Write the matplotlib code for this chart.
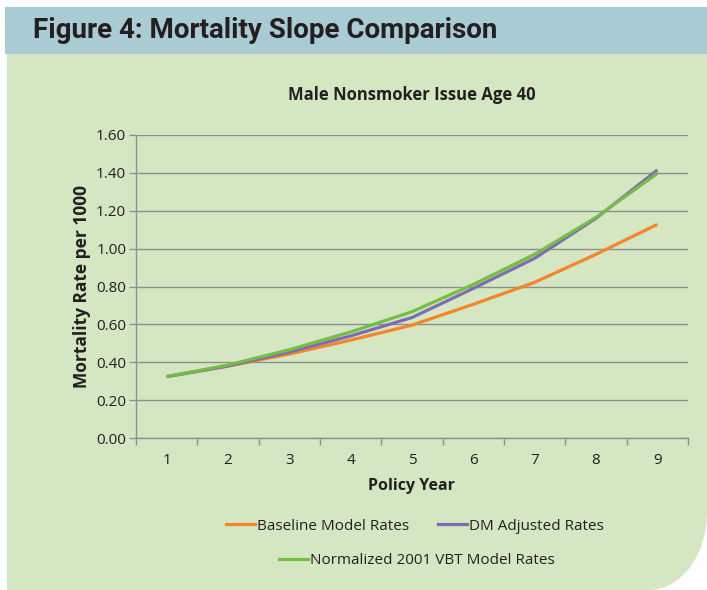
import matplotlib
matplotlib.use("Agg")
import matplotlib.pyplot as plt
from matplotlib.patches import Rectangle, PathPatch
from matplotlib.path import Path
from matplotlib.lines import Line2D
import numpy as np

plt.rcParams['font.family'] = ['Open Sans', 'DejaVu Sans']

years = [1, 2, 3, 4, 5, 6, 7, 8, 9]
baseline = [0.324, 0.380, 0.443, 0.517, 0.596, 0.706, 0.822, 0.970, 1.128]
dm_adjusted = [0.324, 0.380, 0.454, 0.539, 0.636, 0.790, 0.949, 1.160, 1.415]
vbt_normalized = [0.324, 0.385, 0.466, 0.560, 0.667, 0.811, 0.970, 1.165, 1.397]
yticks = [0.0, 0.2, 0.4, 0.6, 0.8, 1.0, 1.2, 1.4, 1.6]

C_ORANGE = '#F5842A'
C_PURPLE = '#7E6BB5'
C_GREEN = '#72BF44'
C_BG = '#D4E7C2'
C_HEAD = '#A8CBD4'
C_GRID = '#8E8E8E'
C_TEXT = '#231F20'

W, H = 707, 590
fig = plt.figure(figsize=(W / 100, H / 100), dpi=100)
fig.patch.set_facecolor('white')

# header band
fig.patches.append(Rectangle((5 / W, 1 - 54 / H), 1 - 5 / W, 47 / H,
                             transform=fig.transFigure, facecolor=C_HEAD,
                             edgecolor='none', zorder=-10))
# green panel with rounded bottom-right corner
x0, x1 = 7 / W, 1.0
y0, y1 = 0.0, 1 - 54 / H
rx, ry = 58 / W, 78 / H
t = np.linspace(0, np.pi / 2, 40)
arc_x = (x1 - rx) + rx * np.sin(t)
arc_y = (y0 + ry) - ry * np.cos(t)
verts = [(x0, y1), (x0, y0)] + list(zip(arc_x, arc_y)) + [(x1, y1), (x0, y1)]
codes = [Path.MOVETO] + [Path.LINETO] * (len(verts) - 2) + [Path.CLOSEPOLY]
fig.patches.append(PathPatch(Path(verts, codes), transform=fig.transFigure,
                             facecolor=C_BG, edgecolor='none', zorder=-10))

fig.text(33 / W, 1 - 31 / H, 'Figure 4: Mortality Slope Comparison',
         fontsize=20, fontweight='bold', color=C_TEXT,
         family=['Roboto', 'DejaVu Sans'], ha='left', va='center')

ax = fig.add_axes([136 / W, 1 - 438 / H, (688 - 136) / W, (438 - 135) / H])
ax.set_facecolor('none')
ax.set_zorder(5)

ax.plot(years, baseline, color=C_ORANGE, lw=2.3, solid_capstyle='butt', zorder=3)
ax.plot(years, dm_adjusted, color=C_PURPLE, lw=2.3, solid_capstyle='butt', zorder=4)
ax.plot(years, vbt_normalized, color=C_GREEN, lw=2.3, solid_capstyle='butt', zorder=5)

ax.set_xlim(0.5, 9.5)
ax.set_ylim(0, 1.6)
ax.set_yticks(yticks)
ax.set_yticklabels([f'{v:.2f}' for v in yticks])
ax.set_xticks(years)
ax.set_xticklabels([str(y) for y in years])
ax.set_xticks(np.arange(0.5, 10.0, 1.0), minor=True)
ax.tick_params(axis='x', which='major', length=0, pad=11, labelsize=11, colors=C_TEXT)
ax.tick_params(axis='x', which='minor', length=5, color=C_GRID, width=1)
ax.tick_params(axis='y', length=5, color=C_GRID, width=1, pad=2, labelsize=11,
               labelcolor=C_TEXT)
ax.yaxis.grid(True, color=C_GRID, lw=1)
ax.set_axisbelow(True)
for s in ['top', 'right']:
    ax.spines[s].set_visible(False)
for s in ['left', 'bottom']:
    ax.spines[s].set_color(C_GRID)
    ax.spines[s].set_linewidth(1)

ax.set_xlabel('Policy Year', fontsize=11.5, fontweight='bold', color=C_TEXT, labelpad=7)
ax.set_ylabel('Mortality Rate per 1000', fontsize=12.5, fontweight='bold',
              color=C_TEXT, labelpad=4)

fig.text(412 / W, 1 - 95 / H, 'Male Nonsmoker Issue Age 40', fontsize=12,
         fontweight='bold', color=C_TEXT, ha='center', va='center')

h1 = Line2D([], [], color=C_ORANGE, lw=2.3)
h2 = Line2D([], [], color=C_PURPLE, lw=2.3)
h3 = Line2D([], [], color=C_GREEN, lw=2.3)
leg1 = fig.legend([h1, h2], ['Baseline Model Rates', 'DM Adjusted Rates'], ncol=2,
                  loc='center', bbox_to_anchor=(415 / W, 1 - 526 / H), frameon=False,
                  fontsize=11, handlelength=1.9, handletextpad=0.15, columnspacing=1.9)
leg2 = fig.legend([h3], ['Normalized 2001 VBT Model Rates'], ncol=1,
                  loc='center', bbox_to_anchor=(417 / W, 1 - 561 / H), frameon=False,
                  fontsize=11, handlelength=1.9, handletextpad=0.15)
for lg in (leg1, leg2):
    for tx in lg.get_texts():
        tx.set_color(C_TEXT)

fig.savefig('out.png', dpi=100, facecolor='white')
